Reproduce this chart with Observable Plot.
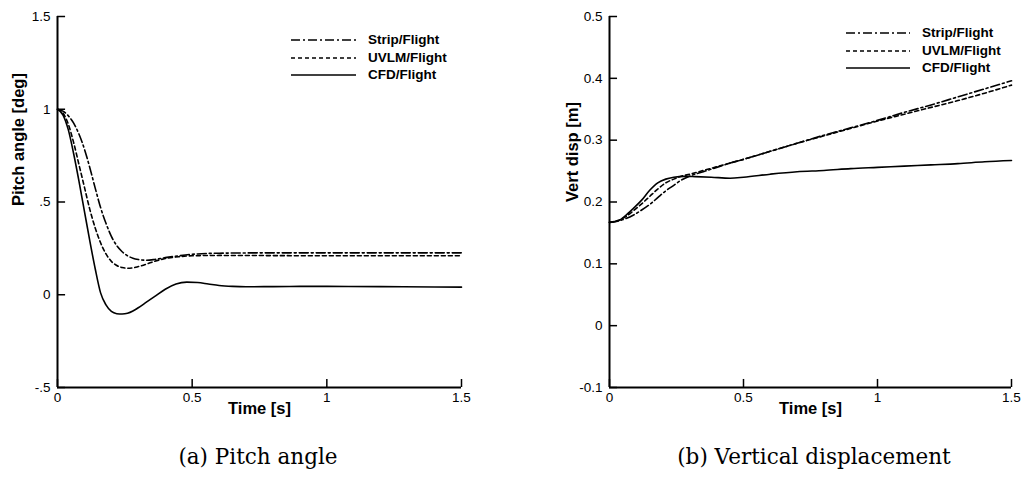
<!DOCTYPE html>
<html>
<head>
<meta charset="utf-8">
<script src="https://cdn.jsdelivr.net/npm/d3@7"></script>
<script src="https://cdn.jsdelivr.net/npm/@observablehq/plot@0.6"></script>
<style>
  html, body { margin: 0; padding: 0; background: #fff; }
  #wrap { position: relative; width: 1027px; height: 485px; overflow: hidden; font-family: "Liberation Sans", Arial, sans-serif; }
  .panel { position: absolute; top: 0; }
  .legend { position: absolute; font-weight: bold; font-size: 13.5px; color: #000; }
  .legend .row { position: absolute; white-space: nowrap; }
  .caption { position: absolute; width: 400px; text-align: center; font-family: "DejaVu Serif", serif; font-size: 21.5px; color: #000; }
</style>
</head>
<body>
<div id="wrap"></div>
<script>
// ---------- data ----------
const seriesNames = ["Strip/Flight", "UVLM/Flight", "CFD/Flight"];

const xTicks = [0, 0.5, 1, 1.5];
const xTickLabels = ["0", "0.5", "1", "1.5"];
const pitchTicks = [-0.5, 0, 0.5, 1, 1.5];
const pitchTickLabels = ["-.5", "0", ".5", "1", "1.5"];
const dispTicks = [-0.1, 0, 0.1, 0.2, 0.3, 0.4, 0.5];
const dispTickLabels = ["-0.1", "0", "0.1", "0.2", "0.3", "0.4", "0.5"];

// (a) Pitch angle [deg]
const pitchStripT = [0, 0.02, 0.04, 0.06, 0.08, 0.1, 0.12, 0.14, 0.16, 0.18, 0.2, 0.22, 0.24, 0.26, 0.28, 0.3, 0.33, 0.36, 0.4, 0.45, 0.5, 0.6, 0.8, 1.0, 1.2, 1.5];
const pitchStrip  = [1, 0.99, 0.965, 0.925, 0.865, 0.785, 0.685, 0.575, 0.47, 0.385, 0.315, 0.265, 0.232, 0.21, 0.197, 0.19, 0.186, 0.19, 0.2, 0.21, 0.218, 0.224, 0.226, 0.226, 0.226, 0.226];
const pitchUvlmT  = [0, 0.02, 0.04, 0.06, 0.08, 0.1, 0.12, 0.14, 0.16, 0.18, 0.2, 0.22, 0.24, 0.26, 0.28, 0.3, 0.33, 0.36, 0.4, 0.45, 0.5, 0.6, 0.8, 1.0, 1.2, 1.5];
const pitchUvlm   = [1, 0.98, 0.92, 0.82, 0.70, 0.58, 0.46, 0.36, 0.28, 0.22, 0.18, 0.158, 0.147, 0.143, 0.145, 0.152, 0.165, 0.18, 0.195, 0.205, 0.21, 0.212, 0.211, 0.21, 0.21, 0.21];
const pitchCfdT   = [0, 0.02, 0.04, 0.06, 0.08, 0.1, 0.12, 0.14, 0.16, 0.18, 0.2, 0.22, 0.24, 0.26, 0.28, 0.3, 0.33, 0.36, 0.4, 0.44, 0.48, 0.52, 0.56, 0.6, 0.65, 0.7, 0.8, 0.9, 1.0, 1.2, 1.4, 1.5];
const pitchCfd    = [1, 0.97, 0.89, 0.76, 0.61, 0.45, 0.29, 0.14, 0.01, -0.055, -0.09, -0.102, -0.104, -0.1, -0.088, -0.07, -0.04, -0.01, 0.03, 0.058, 0.068, 0.066, 0.058, 0.05, 0.045, 0.043, 0.044, 0.045, 0.045, 0.044, 0.042, 0.041];

// (b) Vertical displacement [m]
const dispStripT = [0, 0.03, 0.06, 0.09, 0.12, 0.15, 0.18, 0.21, 0.24, 0.27, 0.3, 0.35, 0.4, 0.45, 0.5, 0.6, 0.7, 0.8, 0.9, 1.0, 1.1, 1.2, 1.3, 1.4, 1.5];
const dispStrip  = [0.167, 0.169, 0.173, 0.179, 0.187, 0.196, 0.207, 0.218, 0.227, 0.236, 0.242, 0.249, 0.256, 0.263, 0.269, 0.282, 0.295, 0.308, 0.320, 0.332, 0.345, 0.357, 0.370, 0.383, 0.396];
const dispUvlmT  = [0, 0.03, 0.06, 0.09, 0.12, 0.15, 0.18, 0.21, 0.24, 0.27, 0.3, 0.35, 0.4, 0.45, 0.5, 0.6, 0.7, 0.8, 0.9, 1.0, 1.1, 1.2, 1.3, 1.4, 1.5];
const dispUvlm   = [0.167, 0.170, 0.176, 0.186, 0.197, 0.209, 0.221, 0.231, 0.237, 0.242, 0.245, 0.251, 0.257, 0.263, 0.269, 0.282, 0.295, 0.307, 0.319, 0.331, 0.342, 0.353, 0.364, 0.376, 0.389];
const dispCfdT   = [0, 0.035, 0.06, 0.09, 0.12, 0.15, 0.18, 0.21, 0.24, 0.28, 0.32, 0.38, 0.45, 0.5, 0.6, 0.7, 0.8, 0.9, 1.0, 1.1, 1.2, 1.3, 1.4, 1.5];
const dispCfd    = [0.167, 0.170, 0.178, 0.190, 0.203, 0.219, 0.231, 0.237, 0.240, 0.2415, 0.241, 0.240, 0.2385, 0.240, 0.245, 0.249, 0.251, 0.254, 0.256, 0.258, 0.260, 0.262, 0.265, 0.267];

// ---------- styles ----------
const dashStyles = ["9,3,2,3", "4,3", null];
const lineWidth = 1.6;

function rows(t, v) { return t.map((d, i) => ({t: d, v: v[i]})); }

function panel(o) {
  const [ymin, ymax] = o.yDomain;
  const lineMarks = o.series.map((s, i) =>
    Plot.line(rows(s[0], s[1]), {
      x: "t", y: "v", stroke: "black", strokeWidth: lineWidth,
      strokeDasharray: dashStyles[i] || undefined, curve: "monotone-x"
    })
  );
  return Plot.plot({
    width: o.width, height: 430,
    marginLeft: o.marginLeft, marginRight: o.marginRight, marginTop: 16, marginBottom: 43,
    style: {fontFamily: "'Liberation Sans', Arial, sans-serif", fontSize: "13.5px", color: "black", background: "white", overflow: "visible"},
    x: {domain: [0, 1.5]},
    y: {domain: o.yDomain},
    marks: [
      Plot.axisX({ticks: xTicks, tickSize: 0, tickPadding: 5, tickFormat: d => xTickLabels[xTicks.indexOf(d)], label: null, fontSize: 13.5}),
      Plot.axisY({ticks: o.yTicks, tickSize: 0, tickPadding: 7, tickFormat: d => o.yTickLabels[o.yTicks.indexOf(d)], label: null, fontSize: 13.5}),
      Plot.ruleY(o.yTicks, {x1: 0, x2: 0.03, strokeWidth: 1.5}),
      Plot.ruleX(xTicks, {y1: ymin, y2: ymin + o.xTickLen, strokeWidth: 1.5}),
      ...lineMarks,
      Plot.ruleX([0], {y1: ymin, y2: ymax, strokeWidth: 2}),
      Plot.ruleY([ymin], {x1: 0, x2: 1.5, strokeWidth: 2}),
      Plot.text(["Time [s]"], {text: d => d, frameAnchor: "bottom", dy: 26, fontWeight: "bold", fontSize: 16.5}),
      Plot.text([o.yLabel], {text: d => d, frameAnchor: "left", dx: -o.yLabelOffset, dy: o.yLabelDy, rotate: -90, fontWeight: "bold", fontSize: 16.5})
    ]
  });
}

const wrap = document.getElementById("wrap");

function place(el, left) {
  const d = document.createElement("div");
  d.className = "panel";
  d.style.left = left + "px";
  d.appendChild(el);
  wrap.appendChild(d);
}

place(panel({
  width: 500, marginLeft: 57, marginRight: 39,
  yDomain: [-0.5, 1.5], yTicks: pitchTicks, yTickLabels: pitchTickLabels,
  xTickLen: 0.043, yLabel: "Pitch angle [deg]", yLabelOffset: 39, yLabelDy: 4,
  series: [[pitchStripT, pitchStrip], [pitchUvlmT, pitchUvlm], [pitchCfdT, pitchCfd]]
}), 0);

place(panel({
  width: 527, marginLeft: 109, marginRight: 16,
  yDomain: [-0.1, 0.5], yTicks: dispTicks, yTickLabels: dispTickLabels,
  xTickLen: 0.013, yLabel: "Vert disp [m]", yLabelOffset: 37, yLabelDy: 0,
  series: [[dispStripT, dispStrip], [dispUvlmT, dispUvlm], [dispCfdT, dispCfd]]
}), 500);

// legends
function legend(left, top, lineLen, gap, rowH) {
  const lg = document.createElement("div");
  lg.className = "legend";
  lg.style.left = left + "px";
  lg.style.top = top + "px";
  seriesNames.forEach((name, i) => {
    const r = document.createElement("div");
    r.className = "row";
    r.style.top = (i * rowH - 9) + "px";
    r.style.left = "0px";
    r.style.height = "18px";
    r.style.lineHeight = "18px";
    const svgNS = "http://www.w3.org/2000/svg";
    const s = document.createElementNS(svgNS, "svg");
    s.setAttribute("width", lineLen);
    s.setAttribute("height", 18);
    s.style.verticalAlign = "top";
    const ln = document.createElementNS(svgNS, "line");
    ln.setAttribute("x1", 0); ln.setAttribute("x2", lineLen);
    ln.setAttribute("y1", 9); ln.setAttribute("y2", 9);
    ln.setAttribute("stroke", "black");
    ln.setAttribute("stroke-width", lineWidth);
    if (dashStyles[i]) ln.setAttribute("stroke-dasharray", dashStyles[i]);
    s.appendChild(ln);
    r.appendChild(s);
    const tx = document.createElement("span");
    tx.textContent = name;
    tx.style.marginLeft = gap + "px";
    tx.style.verticalAlign = "top";
    r.appendChild(tx);
    lg.appendChild(r);
  });
  wrap.appendChild(lg);
}
legend(291, 40, 65, 12, 17.5);
legend(846, 33, 64, 12, 17.5);

// captions
function caption(text, cx, top) {
  const c = document.createElement("div");
  c.className = "caption";
  c.style.left = (cx - 200) + "px";
  c.style.top = top + "px";
  c.textContent = text;
  wrap.appendChild(c);
}
caption("(a) Pitch angle", 258, 444);
caption("(b) Vertical displacement", 814, 444);
</script>
</body>
</html>
